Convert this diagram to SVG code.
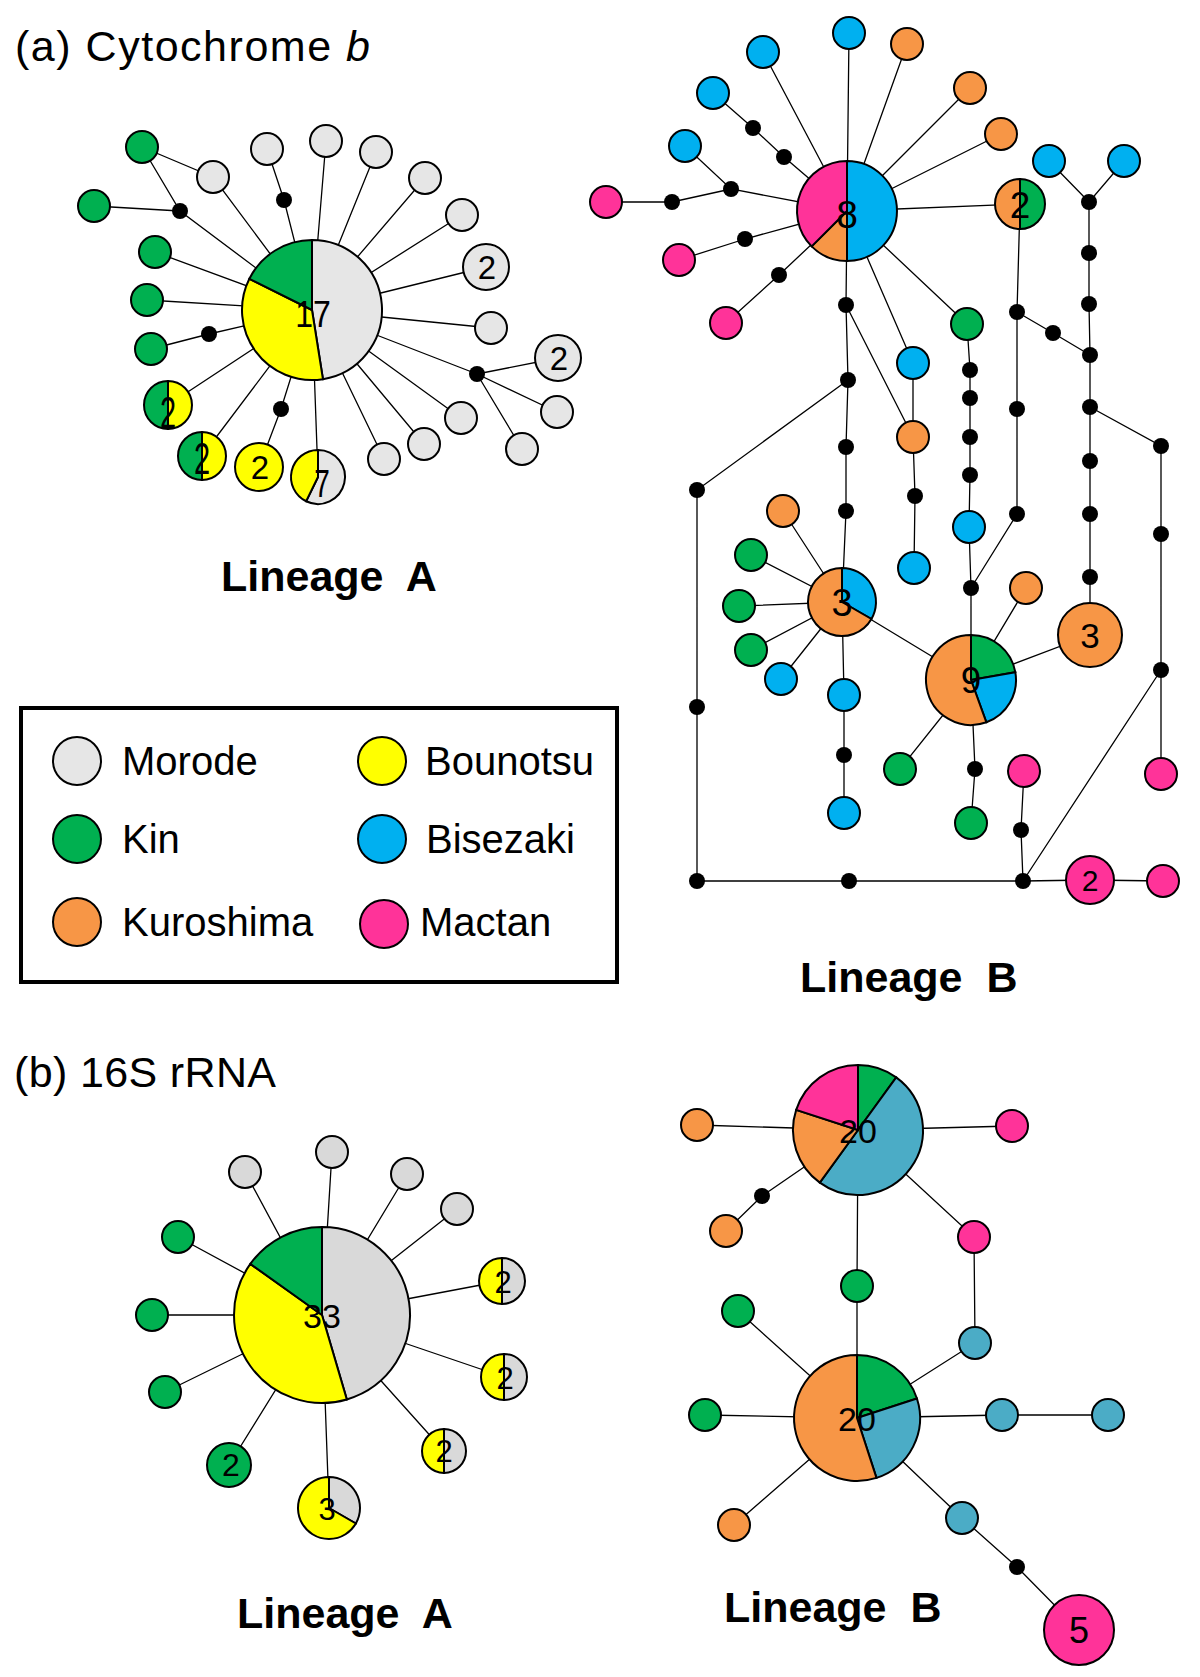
<svg xmlns="http://www.w3.org/2000/svg" width="1200" height="1677" viewBox="0 0 1200 1677">
<style>
.ln{stroke:#000;stroke-width:1.3;fill:none}
.n{stroke:#000;stroke-width:2}
.w{fill:#E6E6E6}.w2{fill:#D9D9D9}.g{fill:#00B050}.y{fill:#FFFF00}.b{fill:#00B0F0}.sb{fill:#4BACC6}.o{fill:#F79646}.p{fill:#FF3399}.k{fill:#000}
.num{font-family:"Liberation Sans",Arial,sans-serif;text-anchor:middle;fill:#000}
.ttl{font-family:"Liberation Sans",Arial,sans-serif;font-size:43px;fill:#000}
.lin{font-family:"Liberation Sans",Arial,sans-serif;font-size:43px;font-weight:bold;fill:#000;white-space:pre}
.leg{font-family:"Liberation Sans",Arial,sans-serif;font-size:40px;fill:#000}
</style>
<rect width="1200" height="1677" fill="#fff"/>
<text class="ttl" x="15" y="61" textLength="355">(a) Cytochrome <tspan font-style="italic">b</tspan></text>
<text class="ttl" x="14" y="1087" textLength="262">(b) 16S rRNA</text>
<text class="lin" x="221" y="591" xml:space="preserve">Lineage  A</text>
<text class="lin" x="800" y="992" xml:space="preserve">Lineage  B</text>
<text class="lin" x="237" y="1628" xml:space="preserve">Lineage  A</text>
<text class="lin" x="724" y="1622" xml:space="preserve">Lineage  B</text>

<g id="connectors">
<!-- (a) lineage A -->
<path class="ln" d="M142,147L213,177L312,310 M142,147L180,211L312,310 M94,206L180,211 M267,149L284,200L312,310 M326,141L312,310 M376,152L312,310 M425,178L312,310 M462,215L312,310 M486,267L312,310 M491,328L312,310 M477,374L312,310 M477,374L558,358 M477,374L557,412 M477,374L522,449 M461,418L312,310 M424,444L312,310 M384,459L312,310 M318,477L312,310 M259,467L281,409L312,310 M202,456L312,310 M168,405L312,310 M151,349L209,334L312,310 M147,300L312,310 M155,252L312,310"/>
<!-- (a) lineage B -->
<path class="ln" d="M847,211L849,33 M847,211L907,44 M847,211L970,88 M847,211L1001,134 M847,211L763,52 M713,93L753,128L784,157L847,211 M685,146L731,189L847,211 M606,202L672,202L731,189 M679,260L745,239L847,211 M726,323L779,275L847,211 M847,211L1020,204 M847,211L967,324 M847,211L913,363 M847,211L846,305 M846,305L913,437 M913,363L913,437L915,496L914,568 M967,324L970,370L970,398L970,437L970,475L969,527L971,588L971,680 M1020,204L1017,312L1017,409L1017,514L971,588 M1017,312L1053,333L1090,355 M1049,161L1089,202 M1124,161L1089,202L1089,253L1089,304L1090,355L1090,407L1090,461L1090,514L1090,577L1090,635 M1090,407L1161,446L1161,534L1161,670L1161,774 M1161,670L1023,881 M846,305L848,380L846,447L846,511L842,602L844,695L844,755L844,813 M848,380L697,490L697,707L697,881L849,881L1023,881L1090,880L1163,881 M842,602L783,511 M842,602L751,555 M842,602L739,606 M842,602L751,650 M842,602L781,679 M842,602L971,680 M971,680L1026,588 M971,680L1090,635 M971,680L900,769 M971,680L975,769L971,823 M1024,771L1021,830L1023,881"/>
<!-- (b) lineage A -->
<path class="ln" d="M322,1315L245,1172 M322,1315L332,1152 M322,1315L407,1174 M322,1315L457,1209 M322,1315L502,1281 M322,1315L504,1377 M322,1315L444,1451 M322,1315L329,1508 M322,1315L229,1465 M322,1315L165,1392 M322,1315L152,1315 M322,1315L178,1237"/>
<!-- (b) lineage B -->
<path class="ln" d="M858,1130L697,1125 M858,1130L1012,1126 M858,1130L762,1196L726,1231 M858,1130L974,1237L975,1343L857,1418 M858,1130L857,1286L857,1418 M857,1418L738,1311 M857,1418L705,1415 M857,1418L1002,1415L1108,1415 M857,1418L734,1525 M857,1418L962,1518L1017,1567L1079,1630"/>
</g>

<!-- (a) Lineage A nodes -->
<g id="aA-hub17">
<path class="w n" d="M312,310L312,240A70,70 0 0 1 322.95,379.14Z"/>
<path class="y n" d="M312,310L322.95,379.14A70,70 0 0 1 249.36,278.77Z"/>
<path class="g n" d="M312,310L249.36,278.77A70,70 0 0 1 312,240Z"/>
<text class="num" transform="translate(313,327) scale(1,1.15)" font-size="32">17</text>
</g>
<g id="aA-sat">
<circle class="g n" cx="142" cy="147" r="16"/>
<circle class="w n" cx="213" cy="177" r="16"/>
<circle class="w n" cx="267" cy="149" r="16"/>
<circle class="w n" cx="326" cy="141" r="16"/>
<circle class="w n" cx="376" cy="152" r="16"/>
<circle class="w n" cx="425" cy="178" r="16"/>
<circle class="w n" cx="462" cy="215" r="16"/>
<circle class="w n" cx="491" cy="328" r="16"/>
<circle class="w n" cx="557" cy="412" r="16"/>
<circle class="w n" cx="522" cy="449" r="16"/>
<circle class="w n" cx="461" cy="418" r="16"/>
<circle class="w n" cx="424" cy="444" r="16"/>
<circle class="w n" cx="384" cy="459" r="16"/>
<circle class="g n" cx="151" cy="349" r="16"/>
<circle class="g n" cx="147" cy="300" r="16"/>
<circle class="g n" cx="155" cy="252" r="16"/>
<circle class="g n" cx="94" cy="206" r="16"/>
</g>
<g id="aA-w2a"><circle class="w n" cx="486" cy="267" r="23"/><text class="num" x="487" y="279" font-size="33">2</text></g>
<g id="aA-w2b"><circle class="w n" cx="558" cy="358" r="23"/><text class="num" x="559" y="370" font-size="33">2</text></g>
<g id="aA-y2"><circle class="y n" cx="259" cy="467" r="24"/><text class="num" x="260" y="479" font-size="33">2</text></g>
<g id="aA-gy2a"><path class="g n" d="M168,381A24,24 0 0 0 168,429Z"/><path class="y n" d="M168,381A24,24 0 0 1 168,429Z"/><text class="num" transform="translate(168,428) scale(1,1.5)" font-size="29">2</text></g>
<g id="aA-gy2b"><path class="g n" d="M202,432A24,24 0 0 0 202,480Z"/><path class="y n" d="M202,432A24,24 0 0 1 202,480Z"/><text class="num" transform="translate(202,474) scale(1,1.5)" font-size="29">2</text></g>
<g id="aA-7">
<path class="w n" d="M318,477L318,450A27,27 0 1 1 306.16,501.27Z"/>
<path class="y n" d="M318,477L306.16,501.27A27,27 0 0 1 318,450Z"/>
<text class="num" transform="translate(322,497) scale(1,1.4)" font-size="28">7</text>
</g>
<g id="aA-dots">
<circle class="k" cx="180" cy="211" r="8"/><circle class="k" cx="284" cy="200" r="8"/><circle class="k" cx="209" cy="334" r="8"/><circle class="k" cx="281" cy="409" r="8"/><circle class="k" cx="477" cy="374" r="8"/>
</g>

<!-- (a) Lineage B nodes -->
<g id="aB-hub8">
<path class="b n" d="M847,211L847,161A50,50 0 0 1 847,261Z"/>
<path class="o n" d="M847,211L847,261A50,50 0 0 1 811.64,246.36Z"/>
<path class="p n" d="M847,211L811.64,246.36A50,50 0 0 1 847,161Z"/>
<text class="num" x="847" y="228" font-size="39">8</text>
</g>
<g id="aB-og2"><path class="o n" d="M1020,179A25,25 0 0 0 1020,229Z"/><path class="g n" d="M1020,179A25,25 0 0 1 1020,229Z"/><text class="num" x="1020" y="218" font-size="37">2</text></g>
<g id="aB-hub3">
<path class="b n" d="M842,602L842,568A34,34 0 0 1 871.44,619Z"/>
<path class="o n" d="M842,602L871.44,619A34,34 0 1 1 842,568Z"/>
<text class="num" x="842" y="616" font-size="38">3</text>
</g>
<g id="aB-hub9">
<path class="g n" d="M971,680L971,635A45,45 0 0 1 1015.32,672.19Z"/>
<path class="b n" d="M971,680L1015.32,672.19A45,45 0 0 1 986.39,722.29Z"/>
<path class="o n" d="M971,680L986.39,722.29A45,45 0 1 1 971,635Z"/>
<text class="num" x="971" y="693" font-size="37">9</text>
</g>
<g id="aB-o3"><circle class="o n" cx="1090" cy="635" r="32"/><text class="num" x="1090" y="648" font-size="35">3</text></g>
<g id="aB-p2"><circle class="p n" cx="1090" cy="880" r="24"/><text class="num" x="1090" y="891" font-size="30">2</text></g>
<g id="aB-sat">
<circle class="b n" cx="849" cy="33" r="16"/>
<circle class="o n" cx="907" cy="44" r="16"/>
<circle class="o n" cx="970" cy="88" r="16"/>
<circle class="o n" cx="1001" cy="134" r="16"/>
<circle class="b n" cx="763" cy="52" r="16"/>
<circle class="b n" cx="713" cy="93" r="16"/>
<circle class="b n" cx="685" cy="146" r="16"/>
<circle class="p n" cx="606" cy="202" r="16"/>
<circle class="p n" cx="679" cy="260" r="16"/>
<circle class="p n" cx="726" cy="323" r="16"/>
<circle class="g n" cx="967" cy="324" r="16"/>
<circle class="b n" cx="913" cy="363" r="16"/>
<circle class="o n" cx="913" cy="437" r="16"/>
<circle class="b n" cx="914" cy="568" r="16"/>
<circle class="b n" cx="969" cy="527" r="16"/>
<circle class="b n" cx="1049" cy="161" r="16"/>
<circle class="b n" cx="1124" cy="161" r="16"/>
<circle class="p n" cx="1161" cy="774" r="16"/>
<circle class="o n" cx="783" cy="511" r="16"/>
<circle class="g n" cx="751" cy="555" r="16"/>
<circle class="g n" cx="739" cy="606" r="16"/>
<circle class="g n" cx="751" cy="650" r="16"/>
<circle class="b n" cx="781" cy="679" r="16"/>
<circle class="b n" cx="844" cy="695" r="16"/>
<circle class="b n" cx="844" cy="813" r="16"/>
<circle class="o n" cx="1026" cy="588" r="16"/>
<circle class="g n" cx="900" cy="769" r="16"/>
<circle class="g n" cx="971" cy="823" r="16"/>
<circle class="p n" cx="1024" cy="771" r="16"/>
<circle class="p n" cx="1163" cy="881" r="16"/>
</g>
<g id="aB-dots">
<circle class="k" cx="753" cy="128" r="8"/><circle class="k" cx="784" cy="157" r="8"/><circle class="k" cx="731" cy="189" r="8"/><circle class="k" cx="672" cy="202" r="8"/><circle class="k" cx="745" cy="239" r="8"/><circle class="k" cx="779" cy="275" r="8"/>
<circle class="k" cx="846" cy="305" r="8"/><circle class="k" cx="848" cy="380" r="8"/><circle class="k" cx="846" cy="447" r="8"/><circle class="k" cx="846" cy="511" r="8"/>
<circle class="k" cx="697" cy="490" r="8"/><circle class="k" cx="697" cy="707" r="8"/><circle class="k" cx="915" cy="496" r="8"/>
<circle class="k" cx="970" cy="370" r="8"/><circle class="k" cx="970" cy="398" r="8"/><circle class="k" cx="970" cy="437" r="8"/><circle class="k" cx="970" cy="475" r="8"/><circle class="k" cx="971" cy="588" r="8"/>
<circle class="k" cx="1017" cy="312" r="8"/><circle class="k" cx="1053" cy="333" r="8"/><circle class="k" cx="1017" cy="409" r="8"/><circle class="k" cx="1017" cy="514" r="8"/>
<circle class="k" cx="1089" cy="202" r="8"/><circle class="k" cx="1089" cy="253" r="8"/><circle class="k" cx="1089" cy="304" r="8"/><circle class="k" cx="1090" cy="355" r="8"/><circle class="k" cx="1090" cy="407" r="8"/><circle class="k" cx="1090" cy="461" r="8"/><circle class="k" cx="1090" cy="514" r="8"/><circle class="k" cx="1090" cy="577" r="8"/>
<circle class="k" cx="1161" cy="446" r="8"/><circle class="k" cx="1161" cy="534" r="8"/><circle class="k" cx="1161" cy="670" r="8"/>
<circle class="k" cx="844" cy="755" r="8"/><circle class="k" cx="975" cy="769" r="8"/><circle class="k" cx="1021" cy="830" r="8"/>
<circle class="k" cx="697" cy="881" r="8"/><circle class="k" cx="849" cy="881" r="8"/><circle class="k" cx="1023" cy="881" r="8"/>
</g>

<!-- Legend -->
<g id="legend">
<rect x="21" y="708" width="596" height="274" fill="none" stroke="#000" stroke-width="4"/>
<circle class="w n" cx="77" cy="761" r="24" stroke-width="3"/><text class="leg" x="122" y="775">Morode</text>
<circle class="g n" cx="77" cy="839" r="24" stroke-width="3"/><text class="leg" x="122" y="853">Kin</text>
<circle class="o n" cx="77" cy="922" r="24" stroke-width="3"/><text class="leg" x="122" y="936">Kuroshima</text>
<circle class="y n" cx="382" cy="761" r="24" stroke-width="3"/><text class="leg" x="425" y="775">Bounotsu</text>
<circle class="b n" cx="382" cy="839" r="24" stroke-width="3"/><text class="leg" x="426" y="853">Bisezaki</text>
<circle class="p n" cx="384" cy="924" r="24" stroke-width="3"/><text class="leg" x="420" y="936">Mactan</text>
</g>

<!-- (b) Lineage A nodes -->
<g id="bA-hub33">
<path class="w2 n" d="M322,1315L322,1227A88,88 0 0 1 346.84,1399.42Z"/>
<path class="y n" d="M322,1315L346.84,1399.42A88,88 0 0 1 250.36,1263.9Z"/>
<path class="g n" d="M322,1315L250.36,1263.9A88,88 0 0 1 322,1227Z"/>
<text class="num" x="322" y="1328" font-size="34">33</text>
</g>
<g id="bA-sat">
<circle class="w2 n" cx="245" cy="1172" r="16"/>
<circle class="w2 n" cx="332" cy="1152" r="16"/>
<circle class="w2 n" cx="407" cy="1174" r="16"/>
<circle class="w2 n" cx="457" cy="1209" r="16"/>
<circle class="g n" cx="165" cy="1392" r="16"/>
<circle class="g n" cx="152" cy="1315" r="16"/>
<circle class="g n" cx="178" cy="1237" r="16"/>
</g>
<g id="bA-yw2a"><path class="y n" d="M502,1258A23,23 0 0 0 502,1304Z"/><path class="w2 n" d="M502,1258A23,23 0 0 1 502,1304Z"/><text class="num" x="503" y="1293" font-size="31">2</text></g>
<g id="bA-yw2b"><path class="y n" d="M504,1354A23,23 0 0 0 504,1400Z"/><path class="w2 n" d="M504,1354A23,23 0 0 1 504,1400Z"/><text class="num" x="505" y="1389" font-size="31">2</text></g>
<g id="bA-yw2c"><path class="y n" d="M444,1429A22,22 0 0 0 444,1473Z"/><path class="w2 n" d="M444,1429A22,22 0 0 1 444,1473Z"/><text class="num" x="444" y="1462" font-size="31">2</text></g>
<g id="bA-y3">
<path class="w2 n" d="M329,1508L329,1477A31,31 0 0 1 355.85,1523.5Z"/>
<path class="y n" d="M329,1508L355.85,1523.5A31,31 0 1 1 329,1477Z"/>
<text class="num" x="327" y="1520" font-size="31">3</text>
</g>
<g id="bA-g2"><circle class="g n" cx="229" cy="1465" r="22"/><text class="num" x="231" y="1476" font-size="32">2</text></g>

<!-- (b) Lineage B nodes -->
<g id="bB-hub20a">
<path class="g n" d="M858,1130L858,1065A65,65 0 0 1 896.2,1077.4Z"/>
<path class="sb n" d="M858,1130L896.2,1077.4A65,65 0 0 1 819.8,1182.6Z"/>
<path class="o n" d="M858,1130L819.8,1182.6A65,65 0 0 1 796.18,1109.91Z"/>
<path class="p n" d="M858,1130L796.18,1109.91A65,65 0 0 1 858,1065Z"/>
<text class="num" x="858" y="1143" font-size="34">20</text>
</g>
<g id="bB-hub20b">
<path class="g n" d="M857,1418L857,1355A63,63 0 0 1 916.92,1398.53Z"/>
<path class="sb n" d="M857,1418L916.92,1398.53A63,63 0 0 1 876.47,1477.92Z"/>
<path class="o n" d="M857,1418L876.47,1477.92A63,63 0 1 1 857,1355Z"/>
<text class="num" x="857" y="1431" font-size="34">20</text>
</g>
<g id="bB-p5"><circle class="p n" cx="1079" cy="1630" r="35"/><text class="num" x="1079" y="1643" font-size="36">5</text></g>
<g id="bB-sat">
<circle class="o n" cx="697" cy="1125" r="16"/>
<circle class="p n" cx="1012" cy="1126" r="16"/>
<circle class="o n" cx="726" cy="1231" r="16"/>
<circle class="p n" cx="974" cy="1237" r="16"/>
<circle class="g n" cx="857" cy="1286" r="16"/>
<circle class="g n" cx="738" cy="1311" r="16"/>
<circle class="sb n" cx="975" cy="1343" r="16"/>
<circle class="g n" cx="705" cy="1415" r="16"/>
<circle class="sb n" cx="1002" cy="1415" r="16"/>
<circle class="sb n" cx="1108" cy="1415" r="16"/>
<circle class="o n" cx="734" cy="1525" r="16"/>
<circle class="sb n" cx="962" cy="1518" r="16"/>
<circle class="k" cx="762" cy="1196" r="8"/>
<circle class="k" cx="1017" cy="1567" r="8"/>
</g>
</svg>
